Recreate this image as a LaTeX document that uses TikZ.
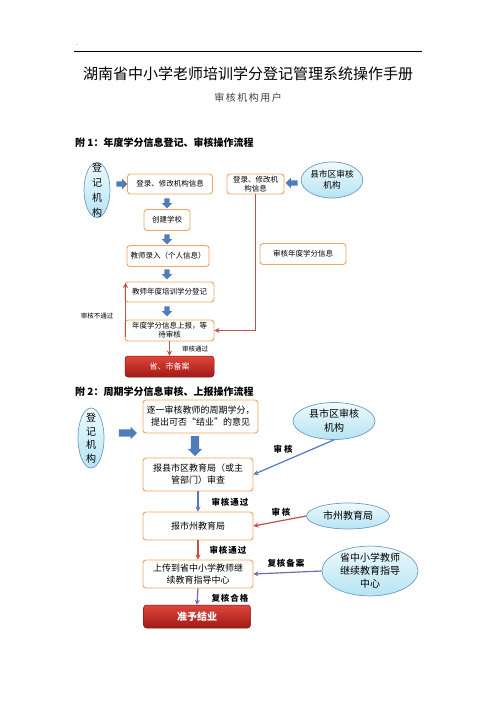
\documentclass[tikz,border=0pt]{standalone}
\usepackage{fontspec}
\setmainfont{Noto Sans CJK SC}
\usetikzlibrary{shapes.geometric,shapes.arrows,arrows.meta}
\definecolor{boxln}{HTML}{F3A35E}
\definecolor{elltop}{HTML}{EEFAFD}
\definecolor{ellbot}{HTML}{B5E4F3}
\definecolor{ellln}{HTML}{6F9BC8}
\definecolor{barrow}{HTML}{4F7DBA}
\definecolor{redln}{HTML}{C0504D}
\definecolor{bluln}{HTML}{5577BE}
\definecolor{purln}{HTML}{7E64A8}
\definecolor{redtop}{HTML}{E0463C}
\definecolor{redbot}{HTML}{A11A16}
\begin{document}
\begin{tikzpicture}[x=1pt,y=-1pt,
  box/.style={draw=boxln, line width=0.9pt, rounded corners=3pt, fill=white, align=center, inner sep=0pt},
  sbox/.style={box, font=\fontsize{7.5}{9}\selectfont},
  lbox/.style={box, font=\fontsize{9}{12}\selectfont},
  redbox/.style={draw=redbot!80!black, line width=0.5pt, rounded corners=3pt, top color=redtop, bottom color=redbot, text=white, align=center, inner sep=0pt},
  ell/.style={ellipse, draw=ellln, line width=0.7pt, top color=elltop, bottom color=ellbot, inner sep=0pt, align=center},
  barr/.style={single arrow, fill=barrow, draw=none, inner sep=2.5pt, single arrow head extend=2.5pt, single arrow head indent=0pt},
  redl/.style={draw=redln, line width=1.2pt, -{Stealth[length=5pt,width=5pt]}},
  blul/.style={draw=bluln, line width=1.2pt, -{Stealth[length=5pt,width=5pt]}},
  purl/.style={draw=purln, line width=1.2pt, -{Stealth[length=5pt,width=5pt]}},
  slab/.style={font=\fontsize{6.5}{8}\selectfont, inner sep=0pt},
  llab/.style={font=\bfseries\fontsize{8.5}{10}\selectfont, inner sep=0pt},
  head/.style={anchor=west, font=\bfseries\fontsize{10}{12}\selectfont, inner sep=0pt}
]
\useasboundingbox (0,0) rectangle (496,702);
% header
\node[font=\fontsize{6}{6}\selectfont, inner sep=0pt] (dot) at (77,45) {.};
\coordinate (hl) at (74,51);
\coordinate (hr) at (422,51);
\draw[line width=0.8pt] (hl) -- (hr);
\node[font=\fontsize{15}{18}\selectfont, inner sep=0pt] (title) at (248,74) {湖南省中小学老师培训学分登记管理系统操作手册};
\node[font=\fontsize{10}{12}\selectfont, text=black!75, inner sep=0pt] (sub) at (248,98) {审\kern1.5pt 核\kern1.5pt 机\kern1.5pt 构\kern1.5pt 用\kern1.5pt 户};
\node[head] (h1) at (75,143) {附 1：年度学分信息登记、审核操作流程};

% flow 1
\node[ell, minimum width=26pt, minimum height=55pt] (e1) at (97,190) {};
\node[font=\fontsize{10}{15}\selectfont, align=center, inner sep=0pt] (e1t) at (e1) {登\\记\\机\\构};
\node[barr, minimum height=11pt] (a1) at (120.5,184) {};
\node[sbox, minimum width=85pt, minimum height=20pt] (b1) at (170,184) {登录、修改机构信息};
\node[sbox, minimum width=46pt, minimum height=21pt] (b2) at (167,220) {创建学校};
\node[sbox, minimum width=82pt, minimum height=21pt] (b3) at (168,256) {教师录入（个人信息）};
\node[sbox, minimum width=89pt, minimum height=20pt] (b4) at (169.5,292) {教师年度培训学分登记};
\node[sbox, minimum width=89pt, minimum height=21pt] (b5) at (169.5,330.5) {年度学分信息上报，等\\待审核};
\node[redbox, minimum width=89pt, minimum height=21pt, font=\fontsize{8}{10}\selectfont] (b6) at (169.5,366.5) {省、市备案};
\node[barr, shape border rotate=270, minimum height=10pt] (d1) at (167,202) {};
\node[barr, shape border rotate=270, minimum height=10pt] (d2) at (167,238) {};
\node[barr, shape border rotate=270, minimum height=10pt] (d3) at (167,273) {};
\node[barr, shape border rotate=270, minimum height=10pt] (d4) at (167,310) {};
\draw[redl] (b5.south) -- (b6.north);
\node[slab] (l1) at (195,349) {审核通过};
\coordinate (nb) at (125.5,337);
\coordinate (nt) at (125.5,283);
\draw[redl] (nb) -- (nt);
\node[slab] (l2) at (97,316) {审核不通过};

\node[sbox, minimum width=57pt, minimum height=20pt] (b7) at (255.5,184) {登录、修改机\\构信息};
\node[barr, shape border rotate=180, minimum height=12pt] (a2) at (293,183) {};
\node[ell, minimum width=60pt, minimum height=36pt, font=\fontsize{8.7}{11}\selectfont] (e2) at (332,180) {县市区审核\\机构};
\node[sbox, minimum width=86pt, minimum height=21pt] (b8) at (303,254) {审核年度学分信息};
\draw[redl] (b7.south) |- (b5.east);

% flow 2
\node[head] (h2) at (75,392) {附 2：周期学分信息审核、上报操作流程};
\node[ell, minimum width=26pt, minimum height=60pt] (e3) at (91,438) {};
\node[font=\fontsize{10}{13.5}\selectfont, align=center, inner sep=0pt] (e3t) at (e3) {登\\记\\机\\构};
\node[barr, minimum height=18pt, inner sep=3.5pt, single arrow head extend=2.5pt] (a3) at (126,433) {};
\node[lbox, minimum width=115pt, minimum height=33pt] (c1) at (200.5,416.5) {逐一审核教师的周期学分，\\提出可否“结业”的意见};
\node[barr, shape border rotate=270, minimum height=20pt, inner sep=4pt, single arrow head extend=3pt] (d5) at (195,444) {};
\node[lbox, minimum width=110pt, minimum height=33pt] (c2) at (198,474.5) {报县市区教育局（或主\\管部门）审查};
\node[ell, minimum width=82pt, minimum height=37pt, font=\fontsize{10}{14}\selectfont] (e4) at (334,421) {县市区审核\\机构};
\draw[blul] (e4.south) -- (c2.east);
\node[llab] (l3) at (283,449) {审\kern2pt 核};
\node[lbox, minimum width=110pt, minimum height=28pt] (c3) at (198,526) {报市州教育局};
\draw[blul] (c2.south) -- (c3.north);
\node[llab] (l4) at (230,502) {审\kern1pt 核\kern1pt 通\kern1pt 过};
\node[ell, minimum width=83pt, minimum height=26pt, font=\fontsize{10}{12}\selectfont] (e5) at (348,516) {市州教育局};
\draw[redl] (e5.west) -- (c3.east);
\node[llab] (l5) at (281,512) {审\kern2pt 核};
\node[lbox, minimum width=110pt, minimum height=28pt] (c4) at (198,574) {上传到省中小学教师继\\续教育指导中心};
\draw[redl] (c3.south) -- (c4.north);
\node[llab] (l6) at (228,550) {审\kern1pt 核\kern1pt 通\kern1pt 过};
\node[ell, minimum width=96pt, minimum height=44pt, font=\fontsize{10}{13}\selectfont] (e6) at (370,571) {省中小学教师\\继续教育指导\\中心};
\draw[purl] (e6.west) -- (c4.east);
\node[llab] (l7) at (286,563) {复\kern1pt 核\kern1pt 备\kern1pt 案};
\node[redbox, minimum width=107pt, minimum height=23pt, font=\bfseries\fontsize{10}{12}\selectfont] (c5) at (197,616.5) {准予结业};
\draw[purl] (c4.south) -- (c5.north);
\node[llab] (l8) at (230,598) {复\kern1pt 核\kern1pt 合\kern1pt 格};
\end{tikzpicture}
\end{document}
